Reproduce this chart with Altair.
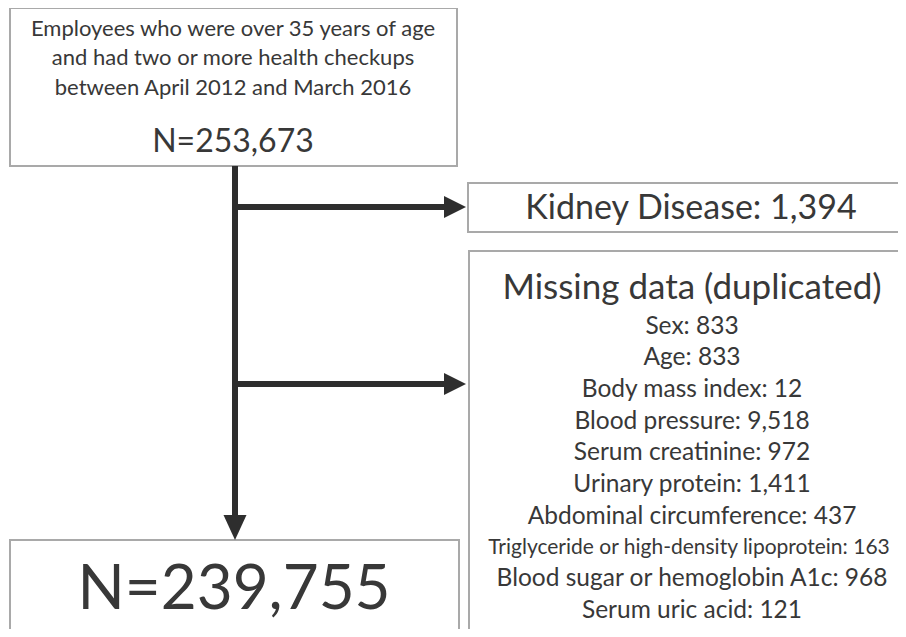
import altair as alt
import pandas as pd

# ---- content ----
top_lines = ["Employees who were over 35 years of age",
             "and had two or more health checkups",
             "between April 2012 and March 2016"]
top_n = "N=253,673"
kidney = "Kidney Disease: 1,394"
missing_title = "Missing data (duplicated)"
missing_items = ["Sex: 833", "Age: 833", "Body mass index: 12",
                 "Blood pressure: 9,518", "Serum creatinine: 972",
                 "Urinary protein: 1,411", "Abdominal circumference: 437",
                 "Triglyceride or high-density lipoprotein: 163",
                 "Blood sugar or hemoglobin A1c: 968", "Serum uric acid: 121"]
final_n = "N=239,755"

# ---- layout (diagram coordinates, pixels from top-left) ----
boxes = pd.DataFrame({
    "x": [10, 468, 469, 10], "x2": [457, 912, 912, 459],
    "y": [8, 183, 251, 540], "y2": [166, 232, 650, 635]})
lines = pd.DataFrame({
    "x": [235, 235, 235], "x2": [235, 446, 446],
    "y": [166, 207, 384], "y2": [518, 207, 384]})
heads = pd.DataFrame({"x": [466, 466, 235], "y": [207, 384, 540],
                      "dir": ["r", "r", "d"]})

FONT = "Lato"
COL = "#383838"
W, H = 890, 621
xs = alt.Scale(domain=[8, 8 + W], nice=False, zero=False)
ys = alt.Scale(domain=[8, 8 + H], nice=False, zero=False, reverse=True)

def X(f="x"):
    return alt.X(f"{f}:Q", scale=xs, axis=None)

def Y(f="y"):
    return alt.Y(f"{f}:Q", scale=ys, axis=None)

rects = alt.Chart(boxes).mark_rect(fill="white", stroke="#a9a9a9",
                                   strokeWidth=2).encode(
    x=X(), x2="x2:Q", y=Y(), y2="y2:Q")

rules = alt.Chart(lines).mark_rule(color="#2e2e2e", strokeWidth=6).encode(
    x=X(), x2="x2:Q", y=Y(), y2="y2:Q")

right_head = alt.Chart(heads[heads.dir == "r"]).mark_point(
    shape="M0,0 L-1,-0.5 L-1,0.5 Z", filled=True, opacity=1,
    color="#2e2e2e", size=1936).encode(x=X(), y=Y())
down_head = alt.Chart(heads[heads.dir == "d"]).mark_point(
    shape="M0,0 L-0.46,-1 L0.46,-1 Z", filled=True, opacity=1,
    color="#2e2e2e", size=2500).encode(x=X(), y=Y())

def texts(labels, xs_, ys_, size):
    df = pd.DataFrame({"t": labels, "x": xs_, "y": ys_})
    return alt.Chart(df).mark_text(font=FONT, fontSize=size, color=COL,
                                   baseline="middle", align="center").encode(
        x=X(), y=Y(), text="t:N")

t_top = texts(top_lines, [233] * 3, [29, 58, 88], 22)
t_topn = texts([top_n], [233], [142], 32)
t_kid = texts([kidney], [691], [209], 34)
t_mtitle = texts([missing_title], [692], [288], 35)
item_y = [327, 358, 390, 422, 453, 485, 517, 548, 579, 611]
item_x = [692] * 10
item_x[7] = 689
sizes = [24.5] * 10
sizes[7] = 21
item_df = pd.DataFrame({"t": missing_items, "x": item_x, "y": item_y,
                        "s": sizes})
t_items = alt.Chart(item_df).mark_text(font=FONT, color=COL, baseline="middle",
                                       align="center").encode(
    x=X(), y=Y(), text="t:N", size=alt.Size("s:Q", scale=None, legend=None))
t_final = texts([final_n], [234], [590], 62)

chart = alt.layer(rects, rules, right_head, down_head, t_top, t_topn, t_kid,
                  t_mtitle, t_items, t_final).properties(
    width=W, height=H, padding=0, autosize="none",
    background="white").configure_view(stroke=None)

chart.save("out.html", embed_options={"renderer": "svg", "actions": False})
